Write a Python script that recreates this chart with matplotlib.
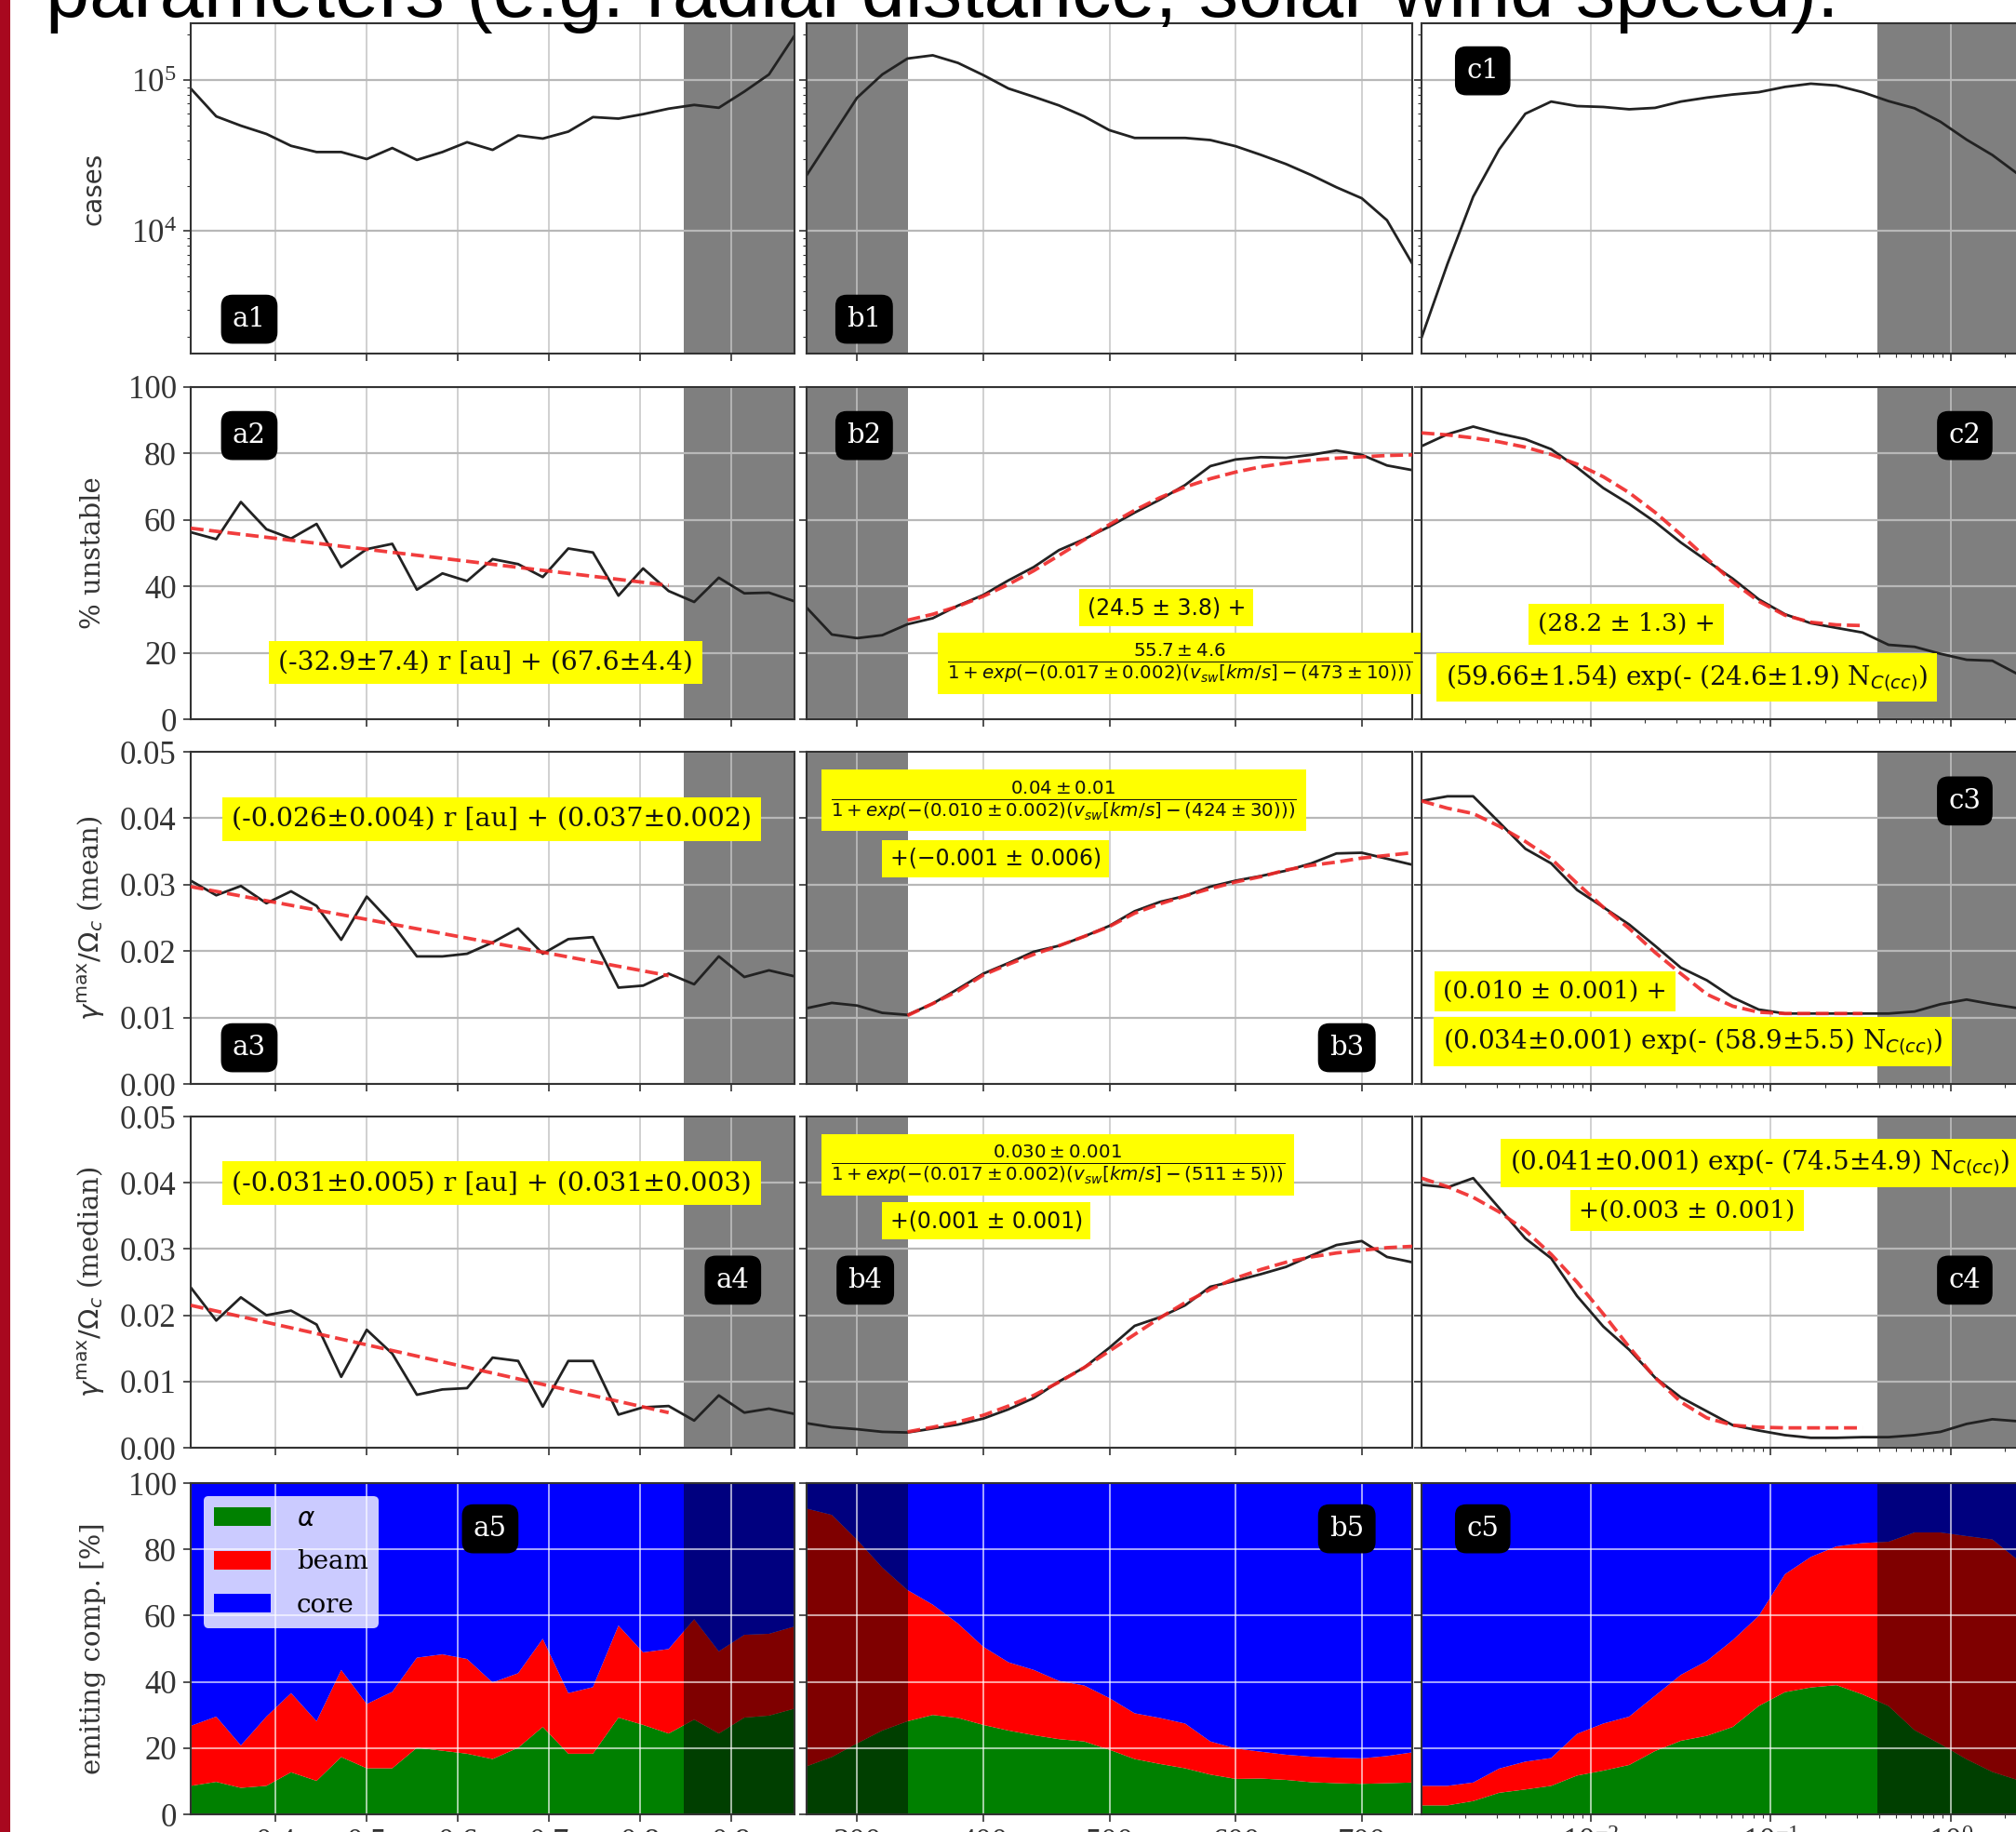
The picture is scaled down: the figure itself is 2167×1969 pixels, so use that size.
import numpy as np
import matplotlib
matplotlib.use('Agg')
import matplotlib.pyplot as plt
from matplotlib.patches import Rectangle

plt.rcParams['font.family'] = ['Liberation Serif', 'DejaVu Serif']
plt.rcParams['mathtext.fontset'] = 'dejavusans'

# ---- x grids of the three columns ----
r_au = [0.307, 0.335, 0.362, 0.390, 0.417, 0.445, 0.472, 0.500, 0.528, 0.555, 0.583, 0.610, 0.638,
        0.666, 0.693, 0.721, 0.748, 0.776, 0.803, 0.831, 0.859, 0.886, 0.914, 0.941, 0.969]
v_sw = [260, 280, 300, 320, 340, 360, 380, 400, 420, 440, 460, 480, 500, 520, 540, 560, 580,
        600, 620, 640, 660, 680, 700, 720, 740]
n_cc = [0.00114, 0.00159, 0.00221, 0.00308, 0.00431, 0.0060, 0.00836, 0.0117, 0.0163, 0.0227,
        0.0316, 0.0441, 0.0615, 0.0857, 0.120, 0.167, 0.232, 0.324, 0.452, 0.631, 0.879, 1.23, 1.71, 2.38]

# ---- column a : radial distance ----
cases_a = [88000, 57500, 49900, 44000, 36700, 33400, 33400, 30000, 35500, 29600, 33400, 38800, 34500,
           43000, 41000, 45600, 56900, 55600, 59500, 64700, 68500, 65600, 84000, 109000, 197000]
unstable_a = [56.3, 54.2, 65.4, 57.2, 54.4, 58.8, 45.8, 51.2, 52.8, 39.0, 43.9, 41.6, 48.2, 46.7, 42.8,
              51.4, 50.2, 37.2, 45.4, 38.6, 35.3, 42.6, 37.9, 38.1, 35.5]
gmean_a = [0.0306, 0.0284, 0.0298, 0.0272, 0.0290, 0.0268, 0.0217, 0.0282, 0.0241, 0.0192, 0.0192, 0.0196,
           0.0213, 0.0234, 0.0196, 0.0218, 0.0221, 0.0145, 0.0148, 0.0166, 0.0150, 0.0192, 0.0161, 0.0171, 0.0162]
gmed_a = [0.0242, 0.0192, 0.0227, 0.0200, 0.0207, 0.0186, 0.0107, 0.0178, 0.0142, 0.0080, 0.0088, 0.0090,
          0.0136, 0.0131, 0.0062, 0.0131, 0.0131, 0.0050, 0.0061, 0.0063, 0.0041, 0.0079, 0.0053, 0.0059, 0.0051]
alpha_a = [8.6, 9.8, 8.0, 8.6, 12.7, 10.1, 17.3, 13.9, 13.9, 20.1, 19.2, 18.3, 16.7, 20.1, 26.4, 18.3,
           18.3, 29.2, 27.0, 24.4, 28.6, 24.4, 29.2, 29.8, 31.9]
beam_a = [18.1, 19.7, 12.8, 20.9, 23.9, 18.0, 26.3, 19.4, 23.1, 27.2, 29.1, 28.6, 23.1, 22.5, 26.6, 18.3,
          20.1, 27.8, 21.9, 25.5, 30.3, 24.8, 25.0, 24.7, 24.8]
fit_r = [0.307, 0.831]
fit_a2 = [57.5, 40.3]
fit_a3 = [0.0297, 0.0163]
fit_a4 = [0.0215, 0.0053]

# ---- column b : solar wind speed ----
cases_b = [23400, 42300, 76400, 109000, 139000, 146000, 130000, 108000, 88000, 77600, 68000, 57500, 46600,
           41400, 41400, 41400, 40100, 36500, 32000, 27800, 23500, 19500, 16500, 11800, 6100]
unstable_b = [33.6, 25.5, 24.4, 25.3, 28.6, 30.4, 34.2, 37.4, 41.8, 45.8, 50.9, 54.2, 58.0, 62.2, 66.1,
              70.5, 76.2, 78.2, 78.9, 78.7, 79.6, 80.9, 79.6, 76.4, 75.0]
gmean_b = [0.0114, 0.0122, 0.0118, 0.0107, 0.0104, 0.0121, 0.0143, 0.0166, 0.0182, 0.0199, 0.0208, 0.0222,
           0.0238, 0.0260, 0.0274, 0.0283, 0.0297, 0.0306, 0.0313, 0.0321, 0.0332, 0.0347, 0.0348, 0.0339, 0.0330]
gmed_b = [0.0037, 0.0031, 0.0028, 0.0024, 0.0023, 0.0029, 0.0035, 0.0044, 0.0058, 0.0075, 0.0100, 0.0121,
          0.0151, 0.0184, 0.0197, 0.0215, 0.0243, 0.0252, 0.0262, 0.0273, 0.0290, 0.0306, 0.0312, 0.0288, 0.0280]
alpha_b = [14.5, 17.3, 21.4, 25.3, 28.1, 30.0, 29.1, 27.0, 25.3, 23.9, 22.7, 22.0, 19.5, 16.7, 15.2, 13.9,
           12.0, 10.7, 10.8, 10.4, 9.7, 9.4, 9.2, 9.4, 9.6]
beam_b = [77.8, 73.1, 61.5, 49.2, 39.6, 33.3, 28.5, 23.6, 20.6, 19.7, 17.6, 16.9, 15.6, 13.8, 13.9, 13.5,
          10.0, 9.2, 8.1, 7.6, 7.7, 7.7, 7.7, 8.2, 9.1]
fit_b2 = [29.8, 31.6, 34.0, 37.0, 40.6, 44.7, 49.3, 54.0, 58.6, 62.9, 66.7, 69.9, 72.4, 74.4, 76.0, 77.1,
          78.0, 78.6, 79.0, 79.4, 79.6]
fit_b3 = [0.0103, 0.0121, 0.0140, 0.0164, 0.0180, 0.0195, 0.0208, 0.0222, 0.0237, 0.0257, 0.0271, 0.0283,
          0.0294, 0.0304, 0.0312, 0.0322, 0.0329, 0.0334, 0.0340, 0.0344, 0.0348]
fit_b4 = [0.0024, 0.0031, 0.0039, 0.0049, 0.0063, 0.0079, 0.0099, 0.0121, 0.0146, 0.0171, 0.0196, 0.0219,
          0.0239, 0.0256, 0.0269, 0.0280, 0.0288, 0.0294, 0.0298, 0.0302, 0.0304]

# ---- column c : N_C(cc) ----
cases_c = [1970, 6070, 16900, 34700, 59900, 72100, 67300, 66400, 64100, 65500, 72100, 76600, 80300,
           83200, 90200, 94700, 92100, 83200, 72600, 65100, 53000, 40300, 31900, 23800]
unstable_c = [82.2, 85.8, 88.1, 86.0, 84.3, 81.3, 75.8, 69.6, 64.8, 59.4, 53.2, 47.7, 42.3, 36.1, 31.6,
              28.9, 27.5, 26.1, 22.4, 21.8, 19.7, 17.9, 17.6, 13.5]
gmean_c = [0.0426, 0.0433, 0.0433, 0.0394, 0.0354, 0.0332, 0.0292, 0.0266, 0.0240, 0.0208, 0.0175, 0.0156,
           0.0130, 0.0112, 0.0106, 0.0106, 0.0106, 0.0106, 0.0106, 0.0109, 0.0120, 0.0127, 0.0120, 0.0114]
gmed_c = [0.0397, 0.0393, 0.0407, 0.0362, 0.0316, 0.0286, 0.0229, 0.0183, 0.0148, 0.0106, 0.0076, 0.0055,
          0.0034, 0.0026, 0.0019, 0.0015, 0.0015, 0.0016, 0.0016, 0.0019, 0.0024, 0.0036, 0.0043, 0.0040]
alpha_c = [2.7, 2.7, 4.0, 6.5, 7.5, 8.6, 11.7, 13.2, 14.9, 19.1, 22.2, 23.7, 26.4, 32.7, 36.9, 38.3, 39.0,
           36.2, 32.7, 25.4, 21.2, 16.6, 12.8, 10.3]
beam_c = [5.9, 5.9, 5.6, 7.3, 8.4, 8.4, 12.6, 14.2, 14.6, 16.7, 19.9, 22.6, 26.2, 27.2, 35.6, 39.4, 41.9,
          45.7, 49.6, 59.7, 63.9, 67.4, 70.2, 66.4]
fit_c2 = [86.2, 85.6, 84.7, 83.5, 81.9, 79.7, 76.8, 73.0, 68.2, 62.3, 55.6, 48.4, 41.3, 35.5, 31.3, 29.2,
          28.4, 28.2]
fit_c3 = [0.0426, 0.0415, 0.0407, 0.0388, 0.0365, 0.0339, 0.0302, 0.0266, 0.0234, 0.0198, 0.0166, 0.0135,
          0.0117, 0.0108, 0.0106, 0.0106, 0.0106, 0.0106]
fit_c4 = [0.0407, 0.0394, 0.0378, 0.0356, 0.0328, 0.0292, 0.0250, 0.0202, 0.0152, 0.0106, 0.0069, 0.0045,
          0.0034, 0.0031, 0.0030, 0.0030, 0.0030, 0.0030]

# excluded ranges (shaded) and x limits
shade = [(0.848, 0.969), (260, 340), (0.39, 2.67)]
xlims = [(0.307, 0.969), (260, 740), (0.00114, 2.67)]

W, H = 2167, 1969
col_left = [205, 867, 1528]
col_w = [649, 651, 651]
row_top = [25, 416, 808, 1200, 1594]
row_bot = [380, 773, 1165, 1556, 1950]

LINE = '#222222'
FIT = dict(color='#f02828', lw=2.7, ls='--', alpha=0.9, zorder=3)


def panel_label(ax, text, x, y):
    ax.text(x, y, text, transform=ax.transAxes, ha='center', va='center', color='white',
            fontsize=21, family='DejaVu Serif', zorder=10,
            bbox=dict(boxstyle='round,pad=0.4', fc='black', ec='black'))


def yellow(ax, text, x, y, size=19, family='DejaVu Serif', ha='center'):
    ax.text(x, y, text, transform=ax.transAxes, ha=ha, va='center', fontsize=size, family=family,
            color='#111111', zorder=9, clip_on=False,
            bbox=dict(boxstyle='square,pad=0.35', fc='#ffff00', ec='none'))


def style(ax, row, col):
    if row < 4:
        ax.grid(True, which='major', axis='y', color='#b8b8b8', lw=1.6)
        ax.grid(True, which='major', axis='x', color='#c4c4c4', lw=1.1)
    else:
        ax.grid(True, which='major', color='white', alpha=0.7, lw=1.3)
    ax.tick_params(which='major', direction='out', length=6, width=1.2, labelsize=25, pad=5,
                   colors='#333333')
    ax.tick_params(which='minor', direction='out', length=3, width=0.8, colors='#333333')
    for s in ax.spines.values():
        s.set_linewidth(1.5)
        s.set_color('#333333')
    if col > 0:
        ax.tick_params(labelleft=False)
    if row < 4:
        ax.tick_params(labelbottom=False)


def main():
    fig = plt.figure(figsize=(W / 100, H / 100), dpi=100)
    fig.add_artist(Rectangle((0, 0), 11 / W, 1, transform=fig.transFigure, color='#a8081f', lw=0))
    fig.text(49 / W, 1 - 18 / H, 'parameters (e.g. radial distance, solar wind speed).',
             fontsize=61, family=['Liberation Sans', 'DejaVu Sans'], va='baseline')

    xs = [r_au, v_sw, n_cc]
    cases = [cases_a, cases_b, cases_c]
    unstable = [unstable_a, unstable_b, unstable_c]
    gmean = [gmean_a, gmean_b, gmean_c]
    gmed = [gmed_a, gmed_b, gmed_c]
    alphas = [alpha_a, alpha_b, alpha_c]
    beams = [beam_a, beam_b, beam_c]

    axes = [[None] * 3 for _ in range(5)]
    for row in range(5):
        for col in range(3):
            ax = fig.add_axes([col_left[col] / W, 1 - row_bot[row] / H, col_w[col] / W,
                               (row_bot[row] - row_top[row]) / H])
            axes[row][col] = ax
            x = xs[col]
            if col == 2:
                ax.set_xscale('log')
            if row == 0:
                ax.set_yscale('log')
                ax.plot(x, cases[col], color=LINE, lw=2.0, zorder=2)
                ax.set_ylim(1545, 2.38e5)
            elif row == 1:
                ax.plot(x, unstable[col], color=LINE, lw=2.0, zorder=2)
                ax.set_ylim(0, 100)
                ax.set_yticks([0, 20, 40, 60, 80, 100])
            elif row == 2:
                ax.plot(x, gmean[col], color=LINE, lw=2.0, zorder=2)
                ax.set_ylim(0, 0.05)
                ax.set_yticks([0, 0.01, 0.02, 0.03, 0.04, 0.05])
                ax.set_yticklabels(['0.00', '0.01', '0.02', '0.03', '0.04', '0.05'])
            elif row == 3:
                ax.plot(x, gmed[col], color=LINE, lw=2.0, zorder=2)
                ax.set_ylim(0, 0.05)
                ax.set_yticks([0, 0.01, 0.02, 0.03, 0.04, 0.05])
                ax.set_yticklabels(['0.00', '0.01', '0.02', '0.03', '0.04', '0.05'])
            else:
                core = [100 - a - b for a, b in zip(alphas[col], beams[col])]
                ax.stackplot(x, alphas[col], beams[col], core, colors=['green', 'red', 'blue'],
                             labels=[r'$\alpha$', 'beam', 'core'], lw=0)
                ax.set_ylim(0, 100)
                ax.set_yticks([0, 20, 40, 60, 80, 100])
            ax.axvspan(shade[col][0], shade[col][1], color='black', alpha=0.5, lw=0,
                       zorder=1.2 if row == 4 else 0.9)
            ax.set_xlim(*xlims[col])
            if col == 0:
                ax.set_xticks([0.4, 0.5, 0.6, 0.7, 0.8, 0.9])
                ax.set_xticklabels(['0.4', '0.5', '0.6', '0.7', '0.8', '0.9'])
            elif col == 1:
                ax.set_xticks([300, 400, 500, 600, 700])
            style(ax, row, col)

    # fitted curves
    axes[1][0].plot(fit_r, fit_a2, **FIT)
    axes[2][0].plot(fit_r, fit_a3, **FIT)
    axes[3][0].plot(fit_r, fit_a4, **FIT)
    axes[1][1].plot(v_sw[4:], fit_b2, **FIT)
    axes[2][1].plot(v_sw[4:], fit_b3, **FIT)
    axes[3][1].plot(v_sw[4:], fit_b4, **FIT)
    axes[1][2].plot(n_cc[:18], fit_c2, **FIT)
    axes[2][2].plot(n_cc[:18], fit_c3, **FIT)
    axes[3][2].plot(n_cc[:18], fit_c4, **FIT)

    # y labels
    labels = ['cases', '% unstable', r'$\gamma^{\rm max}/\Omega_c$ (mean)',
              r'$\gamma^{\rm max}/\Omega_c$ (median)', 'emiting comp. [%]']
    for row in range(5):
        ax = axes[row][0]
        fam = 'DejaVu Sans' if row == 0 else 'DejaVu Serif'
        ax.set_ylabel(labels[row], fontsize=21 if row else 20, family=fam, color='#333333')
        ax.yaxis.set_label_coords(-0.14, 0.5)

    # panel tags
    tags = {(0, 0): ('a1', 0.097, 0.104), (0, 1): ('b1', 0.095, 0.104), (0, 2): ('c1', 0.101, 0.856),
            (1, 0): ('a2', 0.097, 0.854), (1, 1): ('b2', 0.095, 0.854), (1, 2): ('c2', 0.897, 0.854),
            (2, 0): ('a3', 0.097, 0.109), (2, 1): ('b3', 0.892, 0.109), (2, 2): ('c3', 0.897, 0.852),
            (3, 0): ('a4', 0.898, 0.506), (3, 1): ('b4', 0.097, 0.506), (3, 2): ('c4', 0.897, 0.506),
            (4, 0): ('a5', 0.496, 0.862), (4, 1): ('b5', 0.892, 0.862), (4, 2): ('c5', 0.101, 0.862)}
    for (row, col), (t, x, y) in tags.items():
        panel_label(axes[row][col], t, x, y)

    # fit annotations
    yellow(axes[1][0], '(-32.9±7.4) r [au] + (67.6±4.4)', 0.488, 0.171, size=20.3)
    yellow(axes[2][0], '(-0.026±0.004) r [au] + (0.037±0.002)', 0.498, 0.798, size=20.5)
    yellow(axes[3][0], '(-0.031±0.005) r [au] + (0.031±0.003)', 0.498, 0.798, size=20.5)

    yellow(axes[1][1], '(24.5 ± 3.8) +', 0.594, 0.336, size=17, family='DejaVu Sans')
    yellow(axes[1][1], r'$\frac{55.7 \pm 4.6}{1 + exp(-(0.017 \pm 0.002)(v_{sw}[km/s] - (473 \pm 10)))}$',
           0.616, 0.168, size=20.5, family='DejaVu Sans')
    yellow(axes[2][1], r'$\frac{0.04 \pm 0.01}{1 + exp(-(0.010 \pm 0.002)(v_{sw}[km/s] - (424 \pm 30)))}$',
           0.425, 0.854, size=20.5, family='DejaVu Sans')
    yellow(axes[2][1], '+(−0.001 ± 0.006)', 0.312, 0.678, size=17, family='DejaVu Sans')
    yellow(axes[3][1], r'$\frac{0.030 \pm 0.001}{1 + exp(-(0.017 \pm 0.002)(v_{sw}[km/s] - (511 \pm 5)))}$',
           0.415, 0.854, size=20.5, family='DejaVu Sans')
    yellow(axes[3][1], '+(0.001 ± 0.001)', 0.297, 0.685, size=17, family='DejaVu Sans')

    yellow(axes[1][2], '(28.2 ± 1.3) +', 0.338, 0.286)
    yellow(axes[1][2], r'(59.66±1.54) exp(- (24.6±1.9) N$_{C(cc)}$)', 0.438, 0.126, size=20)
    yellow(axes[2][2], '(0.010 ± 0.001) +', 0.035, 0.279, ha='left')
    yellow(axes[2][2], r'(0.034±0.001) exp(- (58.9±5.5) N$_{C(cc)}$)', 0.035, 0.127, ha='left', size=20)
    yellow(axes[3][2], r'(0.041±0.001) exp(- (74.5±4.9) N$_{C(cc)}$)', 0.146, 0.860, ha='left', size=20)
    yellow(axes[3][2], '+(0.003 ± 0.001)', 0.438, 0.716)

    axes[4][0].legend(loc='upper left', prop={'family': 'DejaVu Serif', 'size': 20}, framealpha=0.8,
                      facecolor='white', edgecolor='none', handlelength=2.2, handleheight=0.75,
                      labelspacing=0.7, handletextpad=1.0)

    fig.savefig('out.png', dpi=100)


if __name__ == '__main__':
    main()
